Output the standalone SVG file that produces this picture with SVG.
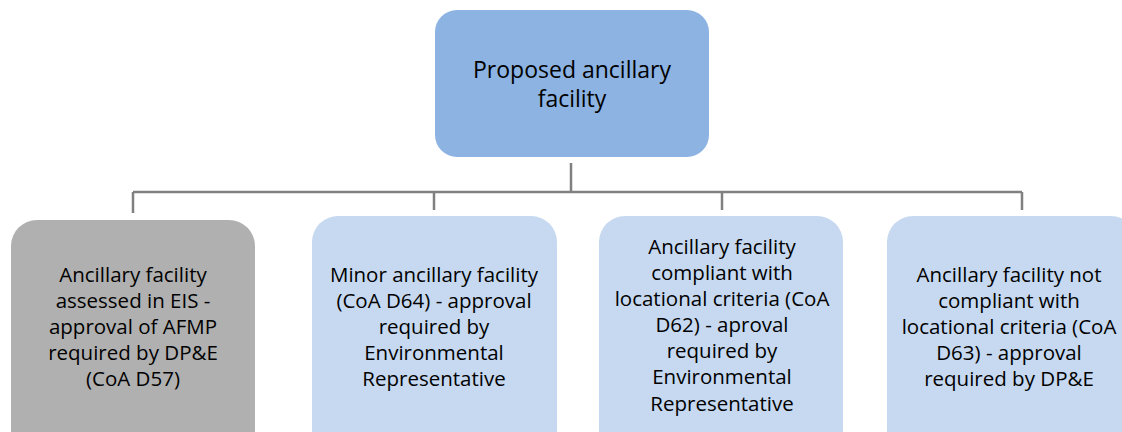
<svg xmlns="http://www.w3.org/2000/svg" width="1122" height="432" viewBox="0 0 1122 432">
<style>
.t{font-family:"Open Sans","Liberation Sans",sans-serif;font-size:20.5px;fill:#000;text-anchor:middle}
.tt{font-size:23px}
.c{fill:none;stroke:#808080;stroke-width:2.5}
</style>
<rect width="1122" height="432" fill="#fff"/>
<g id="connectors">
<path class="c" d="M571 163V192M133 192H1022M133 192V213M434 192V210M722 192V210M1022 192V210"/>
</g>
<g id="top">
<rect x="435" y="10" width="274" height="147" rx="22" fill="#8db3e2"/>
<text class="t tt" x="572" y="78">Proposed ancillary</text>
<text class="t tt" x="572" y="107">facility</text>
</g>
<g id="n1">
<rect x="11" y="220" width="244" height="240" rx="26" fill="#b0b0b0"/>
<text class="t" x="133" y="282">Ancillary facility</text>
<text class="t" x="133" y="308">assessed in EIS -</text>
<text class="t" x="133" y="334">approval of AFMP</text>
<text class="t" x="133" y="360">required by DP&amp;E</text>
<text class="t" x="133" y="386">(CoA D57)</text>
</g>
<g id="n2">
<rect x="312" y="216" width="245" height="240" rx="26" fill="#c6d9f0"/>
<text class="t" x="434" y="282">Minor ancillary facility</text>
<text class="t" x="434" y="308">(CoA D64) - approval</text>
<text class="t" x="434" y="334">required by</text>
<text class="t" x="434" y="360">Environmental</text>
<text class="t" x="434" y="386">Representative</text>
</g>
<g id="n3">
<rect x="599" y="216" width="244" height="240" rx="26" fill="#c6d9f0"/>
<text class="t" x="722" y="254">Ancillary facility</text>
<text class="t" x="722" y="280">compliant with</text>
<text class="t" x="722" y="306">locational criteria (CoA</text>
<text class="t" x="722" y="332">D62) - aproval</text>
<text class="t" x="722" y="358">required by</text>
<text class="t" x="722" y="384">Environmental</text>
<text class="t" x="722" y="411">Representative</text>
</g>
<g id="n4">
<rect x="887" y="216" width="250" height="240" rx="26" fill="#c6d9f0"/>
<text class="t" x="1009" y="282">Ancillary facility not</text>
<text class="t" x="1009" y="308">compliant with</text>
<text class="t" x="1009" y="334">locational criteria (CoA</text>
<text class="t" x="1009" y="360">D63) - approval</text>
<text class="t" x="1009" y="386">required by DP&amp;E</text>
</g>
</svg>
